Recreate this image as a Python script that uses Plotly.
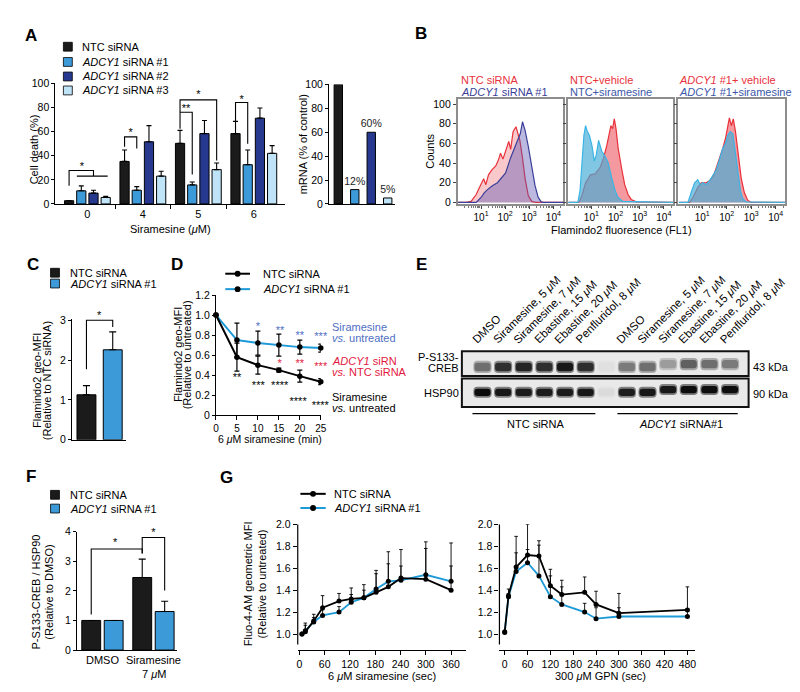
import plotly.graph_objects as go

W, H = 800, 692
FONT = "Arial, Liberation Sans, Helvetica, sans-serif"

BLACK = "#1b1b1b"
BLUE1 = "#3d9ad9"
BLUE2 = "#26398f"
BLUE3 = "#bfe3f7"
LINE_BLUE = "#1d9ad7"
RED = "#e8313a"
PURPLE = "#3b3f99"
BLUE_TXT = "#3b57a8"
CYAN = "#3ab4e4"
STAR_BLUE = "#4f6fc4"
STAR_RED = "#e3173e"

# ---------------- data ----------------
# A: cell death (%) per siramesine dose
doses_A = ["0", "4", "5", "6"]
ntc_A = [2.7, 35.3, 50.3, 58.4]
ntc_A_err = [0.0, 9.5, 10.8, 10.1]
si1_A = [10.9, 11.4, 15.8, 32.6]
si1_A_err = [4.1, 3.0, 2.4, 12.2]
si2_A = [9.0, 51.6, 58.4, 71.2]
si2_A_err = [2.4, 13.4, 10.9, 8.4]
si3_A = [5.4, 23.1, 28.5, 42.0]
si3_A_err = [0.9, 4.1, 5.5, 6.4]
# A: mRNA knockdown
mrna_A = [100, 12, 60, 5]
mrna_labels = ["", "12%", "60%", "5%"]

# B: flow histograms (log10 fluorescence, counts)
b1_red_log = [0.05, 0.39, 0.59, 0.80, 0.93, 1.11, 1.20, 1.31, 1.45, 1.61, 1.72, 1.81, 1.91, 2.02,
              2.15, 2.23, 2.33, 2.45, 2.53, 2.61, 2.72, 2.83, 2.96, 3.10, 3.25, 4.40]
b1_red_cnt = [0, 0, 1, 8, 15, 24, 18, 28, 33, 37, 43, 50, 44, 52, 62, 54, 72, 77, 70, 63, 45, 24, 7,
              1, 0, 0]
b1_blue_log = [0.05, 0.80, 1.00, 1.14, 1.27, 1.47, 1.68, 1.88, 2.02, 2.22, 2.42, 2.56, 2.63, 2.72,
               2.83, 2.96, 3.10, 3.24, 3.37, 3.50, 3.60, 4.40]
b1_blue_cnt = [0, 0, 5, 10, 13, 17, 20, 26, 30, 45, 58, 65, 70, 82, 73, 57, 35, 17, 5, 0.5, 0, 0]

b2_red_log = [0.05, 0.49, 0.62, 0.76, 0.96, 1.16, 1.37, 1.50, 1.64, 1.73, 1.81, 1.88, 1.95, 2.02,
              2.11, 2.25, 2.38, 2.52, 2.65, 2.86, 4.40]
b2_red_cnt = [0, 0, 8, 20, 28, 29, 36, 45, 58, 67, 78, 75, 85, 75, 55, 35, 18, 8, 3, 0.5, 0]
b2_cyan_log = [0.05, 0.44, 0.53, 0.62, 0.69, 0.76, 0.82, 0.92, 1.03, 1.12, 1.20, 1.30, 1.37, 1.43,
               1.57, 1.70, 1.84, 1.98, 2.11, 2.31, 4.40]
b2_cyan_cnt = [0, 0, 12, 42, 68, 78, 73, 68, 57, 42, 48, 63, 57, 52, 47, 40, 25, 12, 5, 1, 0]

b3_red_log = [0.05, 0.49, 0.62, 0.82, 0.96, 1.16, 1.30, 1.46, 1.60, 1.73, 1.84, 1.95, 2.04, 2.11,
              2.19, 2.27, 2.36, 2.46, 2.59, 2.72, 2.86, 3.00, 4.40]
b3_red_cnt = [0, 0, 5, 15, 20, 20, 22, 27, 37, 46, 55, 65, 75, 86, 78, 85, 72, 50, 25, 10, 2, 0, 0]
b3_cyan_log = [0.05, 0.42, 0.55, 0.69, 0.82, 0.92, 1.03, 1.16, 1.30, 1.43, 1.57, 1.70, 1.84, 1.95,
               2.04, 2.14, 2.25, 2.36, 2.45, 2.56, 2.65, 2.79, 4.40]
b3_cyan_cnt = [0, 0, 10, 20, 23, 18, 20, 18, 22, 28, 33, 43, 55, 60, 68, 72, 70, 50, 30, 12, 4, 0.5, 0]

# C: Flamindo2 geo-MFI
groups_C = ["NTC siRNA", "ADCY1 siRNA #1"]
mfi_C = [1.13, 2.26]
mfi_C_err = [0.23, 0.45]

# D: time course
time_D = [0, 5, 10, 15, 20, 25]
ntc_D = [1.0, 0.58, 0.50, 0.45, 0.39, 0.335]
ntc_D_err = [0, 0.14, 0.09, 0.02, 0.06, 0.03]
si1_D = [1.0, 0.75, 0.72, 0.70, 0.68, 0.67]
si1_D_err = [0, 0.17, 0.12, 0.11, 0.07, 0.04]
# D: significance marks (time, height, label)
sig_D_blue = [(10, 0.905, "*"), (15.3, 0.87, "**"), (20, 0.82, "**"), (25, 0.81, "***")]
sig_D_red = [(15.2, 0.54, "*"), (20, 0.54, "**"), (25, 0.51, "***")]
sig_D_black = [(5, 0.40, "**"), (10.1, 0.32, "***"), (15.2, 0.32, "****"), (19.6, 0.155, "****"),
               (24.9, 0.12, "****")]

# E: western blot lanes and band intensities (0 = none, 1 = saturated)
lanes_E = ["DMSO", "Siramesine, 5 <i>μ</i>M", "Siramesine, 7 <i>μ</i>M", "Ebastine, 15 <i>μ</i>M",
           "Ebastine, 20 <i>μ</i>M", "Penfluridol, 8 <i>μ</i>M"]
lane_pos_E = [0, 1, 2, 3, 4, 5, 7, 8, 9, 10, 11, 12]
creb_E = [0.55, 0.85, 0.9, 0.85, 0.95, 0.85, 0.04, 0.5, 0.55, 0.35, 0.62, 0.55, 0.5]
hsp90_E = [1.0, 0.95, 0.93, 0.93, 0.93, 0.95, 0.06, 0.93, 0.95, 0.95, 1.0, 1.0, 1.0]

# F: P-S133-CREB / HSP90
groups_F = ["DMSO", "Siramesine"]
ntc_F = [1.0, 2.45]
ntc_F_err = [0, 0.62]
si1_F = [1.0, 1.30]
si1_F_err = [0, 0.35]

# G: Fluo-4-AM
g1_time = [6, 14, 34, 55, 94, 123, 153, 182, 211, 241, 300, 360]
g1_ntc = [1.00, 1.02, 1.12, 1.24, 1.30, 1.32, 1.33, 1.38, 1.43, 1.51, 1.50, 1.40]
g1_ntc_err = [0, 0.08, 0.06, 0.11, 0.07, 0.10, 0.12, 0.20, 0.32, 0.26, 0.34, 0.43]
g1_si1 = [1.00, 1.03, 1.11, 1.17, 1.20, 1.29, 1.33, 1.41, 1.48, 1.49, 1.54, 1.48]
g1_si1_err = [0, 0.05, 0.04, 0.05, 0.05, 0.07, 0.07, 0.14, 0.16, 0.13, 0.24, 0.14]
g2_time = [0, 10, 30, 60, 90, 120, 150, 210, 240, 300, 480]
g2_ntc = [1.02, 1.35, 1.61, 1.72, 1.71, 1.44, 1.36, 1.38, 1.27, 1.19, 1.22]
g2_ntc_err = [0, 0.06, 0.28, 0.28, 0.14, 0.15, 0.13, 0.14, 0.12, 0.18, 0.21]
g2_si1 = [1.015, 1.34, 1.57, 1.65, 1.53, 1.34, 1.27, 1.20, 1.14, 1.16, 1.16]
g2_si1_err = [0, 0.03, 0.17, 0.12, 0.28, 0.19, 0.16, 0.08, 0.10, 0.08, 0.07]

# ---------------- helpers ----------------
fig = go.Figure()
axes = {}
shapes = []
annotations = []


def set_axes(k, xpx, ypx, xkw=None, ykw=None):
    s = "" if k == 1 else str(k)
    base = dict(showline=True, linecolor="black", linewidth=1.2, ticks="outside", ticklen=4,
                tickwidth=1.1, tickcolor="black", showgrid=False, zeroline=False,
                tickfont=dict(size=10.5, color="black", family=FONT), fixedrange=True)
    xa = dict(base, domain=[xpx[0] / W, xpx[1] / W], anchor="y" + s)
    ya = dict(base, domain=[1 - ypx[1] / H, 1 - ypx[0] / H], anchor="x" + s)
    xa.update(xkw or {})
    ya.update(ykw or {})
    axes["xaxis" + s] = xa
    axes["yaxis" + s] = ya
    return "x" + s, "y" + s


def label(x, y, text, size=11, color="black", xanchor="center", yanchor="middle", angle=0,
          bold=False, xref="paper", yref="paper", yshift=0):
    if xref == "paper":
        x = x / W
    if yref == "paper":
        y = 1 - y / H
    if bold:
        text = "<b>" + text + "</b>"
    annotations.append(dict(x=x, y=y, xref=xref, yref=yref, text=text, showarrow=False,
                            font=dict(size=size, color=color, family=FONT), xanchor=xanchor,
                            yanchor=yanchor, textangle=angle, yshift=yshift))


def stars(xa, ya, marks, dpp, color="black"):
    # asterisks sit high in the line box: drop them ~3 px (dpp = data units per pixel)
    fig.add_trace(go.Scatter(x=[m[0] for m in marks], y=[m[1] - 3 * dpp for m in marks],
                             text=[m[2] for m in marks], mode="text", cliponaxis=False,
                             textfont=dict(size=11, color=color, family=FONT),
                             xaxis=xa, yaxis=ya, showlegend=False, hoverinfo="skip"))


def bracket(xa, ya, pts):
    path = "M " + " L ".join(f"{x},{y}" for x, y in pts)
    shapes.append(dict(type="path", path=path, xref=xa, yref=ya,
                       line=dict(color="black", width=1.1)))


def legend_square(x0, yc, color, text, xt, size=9):
    shapes.append(dict(type="rect", xref="paper", yref="paper", x0=x0 / W, x1=(x0 + size) / W,
                       y0=1 - (yc + size / 2) / H, y1=1 - (yc - size / 2) / H,
                       fillcolor=color, line=dict(color="black", width=0.8)))
    label(xt, yc, text, xanchor="left")


def legend_line(x0, x1, yc, color, text, xt):
    shapes.append(dict(type="line", xref="paper", yref="paper", x0=x0 / W, x1=x1 / W,
                       y0=1 - yc / H, y1=1 - yc / H, line=dict(color=color, width=2)))
    xc = (x0 + x1) / 2
    shapes.append(dict(type="circle", xref="paper", yref="paper", x0=(xc - 3) / W,
                       x1=(xc + 3) / W, y0=1 - (yc + 3) / H, y1=1 - (yc - 3) / H,
                       fillcolor="black", line=dict(color="black", width=0)))
    label(xt, yc, text, xanchor="left")


def up_err(arr, color="black", width=2.5, thick=1.1):
    return dict(type="data", symmetric=False, array=arr, arrayminus=[0] * len(arr),
                color=color, thickness=thick, width=width)


# ---------------- A ----------------
xa, ya = set_axes(1, (45, 277), (70.7, 193.3),
                  xkw=dict(range=[-0.575, 3.56], tickvals=[0, 1, 2, 3], ticktext=doses_A, ticks="",
                           tickfont=dict(size=11, color="black", family=FONT),
                           minor=dict(tickvals=[0.5, 1.5, 2.5], ticks="outside", ticklen=4,
                                      tickcolor="black", tickwidth=1.1)),
                  ykw=dict(range=[0, 100], tickvals=[0, 20, 40, 60, 80, 100], ticklen=3))
offsets_A = [-0.33, -0.11, 0.11, 0.33]
bw = 0.166
for vals, err, col, off in zip([ntc_A, si1_A, si2_A, si3_A],
                               [ntc_A_err, si1_A_err, si2_A_err, si3_A_err],
                               [BLACK, BLUE1, BLUE2, BLUE3], offsets_A):
    fig.add_trace(go.Bar(x=[0, 1, 2, 3], y=vals, width=bw, offset=off - bw / 2,
                         marker=dict(color=col, line=dict(color="black", width=1)),
                         error_y=up_err(err), xaxis=xa, yaxis=ya, showlegend=False))
o = offsets_A
bracket(xa, ya, [(o[0], 15), (o[0], 27.7), (o[2], 27.7), (o[2], 23.1)])
bracket(xa, ya, [(-0.19, 23.1), (0.366, 23.1)])
bracket(xa, ya, [(1 + o[0], 47.5), (1 + o[0], 55.7), (1 + o[1], 55.7), (1 + o[1], 46)])
bracket(xa, ya, [(2 + o[0], 62.5), (2 + o[0], 86.4), (2 + o[3], 86.4), (2 + o[3], 36)])
bracket(xa, ya, [(2 + o[0], 76.1), (2 + o[1], 76.1), (2 + o[1], 24.5)])
bracket(xa, ya, [(3 + o[0], 67.9), (3 + o[0], 84.2), (3 + o[1], 84.2), (3 + o[1], 50)])
stars(xa, ya, [(-0.1, 33, "*"), (0.78, 61, "*"), (1.78, 80.7, "**"), (2.0, 92.4, "*"),
               (2.78, 88.9, "*")], 100 / 122.6)
label(23, 138, "Cell death (%)", angle=-90)
label(161, 218.3, "Siramesine (<i>μ</i>M)")
legend_square(53, 33.3, BLACK, "NTC siRNA", 70)
legend_square(53, 48.8, BLUE1, "<i>ADCY1</i> siRNA #1", 70)
legend_square(53, 63.6, BLUE2, "<i>ADCY1</i> siRNA #2", 70)
legend_square(53, 77.8, BLUE3, "<i>ADCY1</i> siRNA #3", 70)
label(20, 21.7, "A", size=17, bold=True)

# mRNA
xa, ya = set_axes(2, (321.7, 388), (71.7, 193.3),
                  xkw=dict(range=[-0.56, 3.42], showticklabels=False, ticks=""),
                  ykw=dict(range=[0, 100], tickvals=[0, 20, 40, 60, 80, 100], ticklen=3))
fig.add_trace(go.Bar(x=[0, 1, 2, 3], y=mrna_A, width=0.51, offset=-0.255,
                     marker=dict(color=[BLACK, BLUE1, BLUE2, BLUE3], line=dict(color="black", width=1)),
                     text=mrna_labels, textposition="outside", cliponaxis=False, constraintext="none",
                     textfont=dict(size=10.5, color="#222", family=FONT),
                     xaxis=xa, yaxis=ya, showlegend=False))
label(295, 133, "mRNA (% of control)", angle=-90)

# ---------------- B ----------------
b_panels = [
    (3, (451.7, 558.3), [(b1_red_log, b1_red_cnt, RED, "rgba(240,110,118,0.38)"),
                         (b1_blue_log, b1_blue_cnt, PURPLE, "rgba(85,80,175,0.40)")]),
    (4, (563.3, 670), [(b2_red_log, b2_red_cnt, RED, "rgba(234,70,80,0.55)"),
                       (b2_cyan_log, b2_cyan_cnt, CYAN, "rgba(70,172,215,0.68)")]),
    (5, (675, 783.3), [(b3_red_log, b3_red_cnt, RED, "rgba(234,70,80,0.55)"),
                       (b3_cyan_log, b3_cyan_cnt, CYAN, "rgba(70,172,215,0.68)")]),
]
for k, xpx, series in b_panels:
    xa, ya = set_axes(
        k, xpx, (86.7, 193.3),
        xkw=dict(type="log", range=[0.03, 4.4], tickvals=[10, 100, 1000, 10000],
                 ticktext=["10<sup>1</sup>", "10<sup>2</sup>", "10<sup>3</sup>", "10<sup>4</sup>"],
                 mirror=True, linecolor="#8d8d8d", linewidth=1.5, ticklen=3, tickcolor="#444",
                 tickfont=dict(size=10, color="black", family=FONT),
                 minor=dict(ticks="outside", ticklen=2, tickcolor="#777", dtick="D1")),
        ykw=dict(range=[-1.6, 105], tickvals=[0, 20, 40, 60, 80, 100], mirror=True,
                 linecolor="#8d8d8d", linewidth=1.5, ticklen=3, tickcolor="#444",
                 showticklabels=(k == 3)))
    for logs, cnt, lc, fc in series:
        fig.add_trace(go.Scatter(x=[10 ** v for v in logs], y=cnt, mode="lines", fill="tozeroy",
                                 line=dict(color=lc, width=1.2), fillcolor=fc,
                                 xaxis=xa, yaxis=ya, showlegend=False))
label(453.3, 66.7, "NTC siRNA", color=RED, xanchor="left")
label(453.3, 79.3, "<i>ADCY1</i> siRNA #1", color=PURPLE, xanchor="left")
label(563.3, 66.7, "NTC+vehicle", color=RED, xanchor="left")
label(563.3, 79.3, "NTC+siramesine", color=BLUE_TXT, xanchor="left")
label(674, 66.7, "<i>ADCY1</i> #1+ vehicle", color=RED, xanchor="left")
label(674, 79.3, "<i>ADCY1</i> #1+siramesine", color=BLUE_TXT, xanchor="left")
label(423, 140, "Counts", angle=-90)
label(617, 220, "Flamindo2 fluoresence (FL1)")
label(415, 20, "B", size=17, bold=True)

# ---------------- C ----------------
xa, ya = set_axes(6, (61.7, 116.7), (310.1, 433.3),
                  xkw=dict(range=[-0.55, 1.52], showticklabels=False, ticks=""),
                  ykw=dict(range=[0, 3.04], tickvals=[0, 1, 2, 3], ticklen=3))
fig.add_trace(go.Bar(x=[0, 1], y=mfi_C, width=0.72, offset=-0.36,
                     marker=dict(color=[BLACK, BLUE1], line=dict(color="black", width=1)),
                     error_y=up_err(mfi_C_err, width=3.5), xaxis=xa, yaxis=ya, showlegend=False))
bracket(xa, ya, [(0, 1.77), (0, 3.0), (1, 3.0), (1, 2.83)])
# star sits above the bracket top, outside the axis range, so it is lifted by pixels
label(0.5, 3.0, "*", xref=xa, yref=ya, yshift=5)
label(25.7, 373, "Flamindo2 geo-MFI", angle=-90)
label(36, 373, "(Relative to NTC siRNA)", angle=-90)
legend_square(40, 263.3, BLACK, "NTC siRNA", 58)
legend_square(40, 274.3, BLUE1, "<i>ADCY1</i> siRNA #1", 58)
label(22.7, 255, "C", size=17, bold=True)

# ---------------- D ----------------
xa, ya = set_axes(7, (207.3, 313.3), (286, 408.3),
                  xkw=dict(range=[0, 25], tickvals=time_D,
                           tickfont=dict(size=10, color="black", family=FONT)),
                  ykw=dict(range=[0, 1.2], tickvals=[0, 0.2, 0.4, 0.6, 0.8, 1.0, 1.2], ticklen=3,
                           ticktext=["0", "0.2", "0.4", "0.6", "0.8", "1.0", "1.2"]))
for yv, err, col in [(si1_D, si1_D_err, LINE_BLUE), (ntc_D, ntc_D_err, "black")]:
    fig.add_trace(go.Scatter(x=time_D, y=yv, mode="lines+markers", cliponaxis=False,
                             line=dict(color=col, width=2), marker=dict(color="black", size=5.5),
                             error_y=dict(type="data", array=err, color="black", thickness=1.2, width=2.5),
                             xaxis=xa, yaxis=ya, showlegend=False))
stars(xa, ya, sig_D_blue, 1.2 / 122.3, STAR_BLUE)
stars(xa, ya, sig_D_red, 1.2 / 122.3, STAR_RED)
stars(xa, ya, sig_D_black, 1.2 / 122.3)
label(323, 319, "Siramesine", color=STAR_BLUE, xanchor="left")
label(323, 330, "<i>vs.</i> untreated", color=STAR_BLUE, xanchor="left")
label(323, 353, "<i>ADCY1</i> siRN", color=STAR_RED, xanchor="left")
label(323, 364, "<i>vs.</i> NTC siRNA", color=STAR_RED, xanchor="left")
label(323, 389.5, "Siramesine", xanchor="left")
label(323, 400.5, "<i>vs.</i> untreated", xanchor="left")
label(168.3, 346.7, "Flamindo2 geo-MFI", angle=-90)
label(177.6, 346.7, "(Relative to untreated)", angle=-90)
label(261.7, 433, "6 <i>μ</i>M siramesine (min)", size=10.5)
legend_line(216.7, 241.7, 264.3, "black", "NTC siRNA", 253)
legend_line(216.7, 241.7, 280, LINE_BLUE, "<i>ADCY1</i> siRNA #1", 253)
label(168.3, 255, "D", size=17, bold=True)

# ---------------- E (western blot) ----------------
xa, ya = set_axes(8, (456, 746), (343.3, 400),
                  xkw=dict(range=[-1.0, 12.9], visible=False),
                  ykw=dict(range=[0, 1], visible=False))
for x0, x1, t, b in [(456, 746, 343.3, 368.3), (456, 746, 371, 400)]:
    shapes.append(dict(type="rect", xref="paper", yref="paper", x0=x0 / W, x1=x1 / W,
                       y0=1 - b / H, y1=1 - t / H, fillcolor="#e9e9e9",
                       line=dict(color="#111", width=2), layer="below"))
lanes_all = list(range(13))
for inten, center, hgt in [(creb_E, 0.72, 0.15), (hsp90_E, 0.265, 0.13)]:
    lift = [0.05 if i >= 9 else 0.0 for i in lanes_all]
    halo = ["rgb({0},{0},{0})".format(int(233 - 110 * v)) for v in inten]
    core = ["rgb({0},{0},{0})".format(int(233 - 220 * v)) for v in inten]
    fig.add_trace(go.Bar(x=lanes_all, y=[hgt + 0.07] * 13,
                         base=[center - (hgt + 0.07) / 2 + d for d in lift],
                         width=0.88, offset=-0.44, marker=dict(color=halo, line=dict(width=0), cornerradius=4),
                         xaxis=xa, yaxis=ya, showlegend=False, hoverinfo="skip"))
    fig.add_trace(go.Bar(x=lanes_all, y=[hgt] * 13, base=[center - hgt / 2 + d for d in lift],
                         width=0.78, offset=-0.39, marker=dict(color=core, line=dict(width=0), cornerradius=3),
                         xaxis=xa, yaxis=ya, showlegend=False, hoverinfo="skip"))
for i, pos in enumerate(lane_pos_E):
    label(pos - 0.75, 340, lanes_E[i % 6], size=11.5, xanchor="left", yanchor="bottom",
          angle=-45, xref=xa, yref="paper")
label(455, 349, "P-S133-", xanchor="right")
label(455, 360, "CREB", xanchor="right")
label(455, 385.5, "HSP90", xanchor="right")
label(748.3, 359, "43 kDa", xanchor="left")
label(748.3, 386.7, "90 kDa", xanchor="left")
for x0, x1 in [(466.7, 591), (613.3, 735)]:
    shapes.append(dict(type="line", xref="paper", yref="paper", x0=x0 / W, x1=x1 / W,
                       y0=1 - 406.7 / H, y1=1 - 406.7 / H, line=dict(color="black", width=1.2)))
label(530.7, 417.3, "NTC siRNA")
label(677.3, 417.3, "<i>ADCY1</i> siRNA#1")
label(415, 255, "E", size=17, bold=True)

# ---------------- F ----------------
xa, ya = set_axes(9, (66.7, 168.3), (526.7, 647.3),
                  xkw=dict(range=[-0.5, 1.47], tickvals=[0, 1], ticktext=groups_F, ticks="",
                           tickfont=dict(size=11, color="black", family=FONT)),
                  ykw=dict(range=[0, 4], tickvals=[0, 1, 2, 3, 4], ticklen=3))
for vals, err, col, off in [(ntc_F, ntc_F_err, BLACK, -0.22), (si1_F, si1_F_err, BLUE1, 0.22)]:
    fig.add_trace(go.Bar(x=[0, 1], y=vals, width=0.37, offset=off - 0.185,
                         marker=dict(color=col, line=dict(color="black", width=1)),
                         error_y=up_err(err, width=3.5), xaxis=xa, yaxis=ya, showlegend=False))
bracket(xa, ya, [(-0.22, 1.2), (-0.22, 3.41), (0.78, 3.41), (0.78, 3.25)])
bracket(xa, ya, [(0.78, 3.28), (0.78, 3.80), (1.22, 3.80), (1.22, 2.01)])
stars(xa, ya, [(0.25, 3.69, "*"), (1.0, 4.03, "*")], 4 / 120.6)
label(144.3, 671.7, "7 <i>μ</i>M")
label(25, 588, "P-S133-CREB / HSP90", angle=-90)
label(38.3, 588, "(Relative to DMSO)", angle=-90)
legend_square(40, 489.3, BLACK, "NTC siRNA", 57.3)
legend_square(40, 503.3, BLUE1, "<i>ADCY1</i> siRNA #1", 57.3)
label(20, 471, "F", size=17, bold=True)

# ---------------- G ----------------
g_panels = [
    (10, (290, 460), [-4, 395], list(range(0, 361, 60)), g1_time,
     [(g1_si1, g1_si1_err, LINE_BLUE), (g1_ntc, g1_ntc_err, "black")]),
    (11, (494, 691.7), [-13.8, 499.7], list(range(0, 481, 60)), g2_time,
     [(g2_si1, g2_si1_err, LINE_BLUE), (g2_ntc, g2_ntc_err, "black")]),
]
for k, xpx, xr, tv, tx, series in g_panels:
    xa, ya = set_axes(k, xpx, (519.3, 647.3),
                      xkw=dict(range=xr, tickvals=tv),
                      ykw=dict(range=[0.854, 2.0], tickvals=[1.0, 1.2, 1.4, 1.6, 1.8, 2.0],
                               tickformat=".1f", showline=False))
    shapes.append(dict(type="line", xref="paper", yref=ya, x0=xpx[0] / W, x1=xpx[0] / W,
                       y0=0.905, y1=2.0, line=dict(color="black", width=1.2)))
    for yv, err, col in series:
        fig.add_trace(go.Scatter(x=tx, y=yv, mode="lines+markers", cliponaxis=False,
                                 line=dict(color=col, width=1.8), marker=dict(color="black", size=5),
                                 error_y=up_err(err, width=1.8, thick=0.9),
                                 xaxis=xa, yaxis=ya, showlegend=False))
label(240, 580, "Fluo-4-AM geometric MFI", angle=-90)
label(253.3, 580, "(Relative to untreated)", angle=-90)
label(375, 673.3, "6 <i>μ</i>M siramesine (sec)")
label(596.7, 673.3, "300 <i>μ</i>M GPN (sec)")
legend_line(292.7, 318.3, 488.3, "black", "NTC siRNA", 325)
legend_line(292.7, 318.3, 502.7, LINE_BLUE, "<i>ADCY1</i> siRNA #1", 325)
label(218.3, 471.7, "G", size=17, bold=True)

fig.update_layout(width=W, height=H, margin=dict(l=0, r=0, t=0, b=0), showlegend=False,
                  barmode="overlay", plot_bgcolor="white", paper_bgcolor="white",
                  font=dict(family=FONT, color="black"), shapes=shapes, annotations=annotations,
                  **axes)
fig.write_html("out.html")
